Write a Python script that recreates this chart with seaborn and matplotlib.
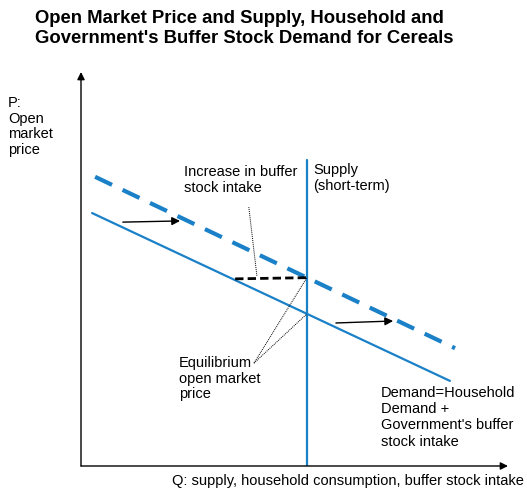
import seaborn as sns
import matplotlib.pyplot as plt

# Schematic values, in axis units (Q and P both run 0..100)
demand_q = [2.6, 86.4]
demand_p = [64.2, 21.6]
demand_new_q = [3.3, 87.6]
demand_new_p = [73.4, 29.9]
supply_q = [52.9, 52.9]
supply_p = [0.0, 77.7]
buffer_q = [36.1, 52.9]
buffer_p = [47.5, 47.8]

# Shift arrows (start, end)
shift_q = [(9.8, 23.2), (59.7, 73.1)]
shift_p = [(61.9, 62.2), (36.3, 36.8)]

title = ("Open Market Price and Supply, Household and\n"
         "Government's Buffer Stock Demand for Cereals")
blue = "#1a80c8"

sns.set_theme(style="white")
plt.rcParams["font.family"] = ["Liberation Sans", "DejaVu Sans"]
plt.rcParams["text.color"] = "black"

W, H = 527, 493
fig = plt.figure(figsize=(W / 100, H / 100), dpi=100)


# Pixel position -> figure fraction
def px(x, y):
    return x / W, 1 - y / H


# Axes placed so the origin sits at (81, 466) and the arrows end at x=508, y=72
ax = fig.add_axes([81 / W, (H - 466) / H, (508 - 81) / W, (466 - 72) / H])
ax.set_xlim(0, 100)
ax.set_ylim(0, 100)
for s in ax.spines.values():
    s.set_visible(False)
ax.set_xticks([])
ax.set_yticks([])
ax.patch.set_alpha(0)

# Axis arrows
ax.annotate("", xy=(100, 0), xytext=(0, 0),
            arrowprops=dict(arrowstyle="-|>", color="black", lw=1.0, mutation_scale=11,
                            shrinkA=0, shrinkB=0))
ax.annotate("", xy=(0, 100), xytext=(0, 0),
            arrowprops=dict(arrowstyle="-|>", color="black", lw=1.0, mutation_scale=11,
                            shrinkA=0, shrinkB=0))

# Demand curves and supply
sns.lineplot(x=demand_q, y=demand_p, ax=ax, color=blue, linewidth=1.6)
sns.lineplot(x=demand_new_q, y=demand_new_p, ax=ax, color=blue, linewidth=3.0,
             linestyle=(0, (4.5, 2.8)))
sns.lineplot(x=supply_q, y=supply_p, ax=ax, color=blue, linewidth=1.6,
             sort=False, estimator=None)
sns.lineplot(x=buffer_q, y=buffer_p, ax=ax, color="black", linewidth=2.0,
             linestyle=(0, (3, 1.5)))

# Shift arrows
for (q0, q1), (p0, p1) in zip(shift_q, shift_p):
    ax.annotate("", xy=(q1, p1), xytext=(q0, p0),
                arrowprops=dict(arrowstyle="-|>", color="black", lw=1.0, mutation_scale=12,
                                shrinkA=0, shrinkB=0))

# Dotted leader lines
eq_high = (supply_q[0], 47.8)
eq_low = (supply_q[0], 38.6)
ax.plot([39.3, 41.2], [65.7, 48.2], color="black", lw=0.7, linestyle=(0, (1, 1)))
for q, p in (eq_high, eq_low):
    ax.plot([40.5, q], [26.1, p], color="black", lw=0.7, linestyle=(0, (1, 1)))

# Texts
fig.text(*px(35, 10), title, fontsize=13.3, fontweight="bold", va="top", ha="left",
         linespacing=1.2)
fs = 10.5
fig.text(*px(8, 96), "P:\nOpen\nmarket\nprice", fontsize=fs, va="top", linespacing=1.15)
fig.text(*px(184, 165), "Increase in buffer\nstock intake", fontsize=fs, va="top",
         linespacing=1.15)
fig.text(*px(313, 163), "Supply\n(short-term)", fontsize=fs, va="top", linespacing=1.15)
fig.text(*px(179, 356), "Equilibrium\nopen market\nprice", fontsize=fs, va="top",
         linespacing=1.15)
fig.text(*px(381, 386), "Demand=Household\nDemand +\nGovernment's buffer\nstock intake",
         fontsize=fs, va="top", linespacing=1.2)
fig.text(*px(524, 474), "Q: supply, household consumption, buffer stock intake",
         fontsize=fs, va="top", ha="right")

fig.savefig("out.png", dpi=100)
